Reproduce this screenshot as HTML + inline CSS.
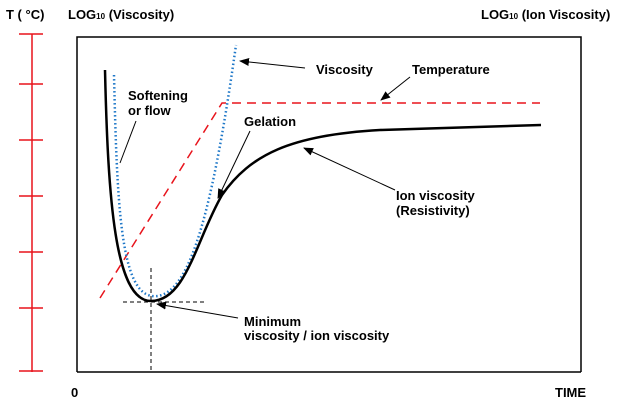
<!DOCTYPE html>
<html><head><style>
body{margin:0;background:#fff;}
svg text{font-family:"Liberation Sans",sans-serif;font-weight:bold;font-size:13px;fill:#000;}
</style></head><body>
<svg width="621" height="411" viewBox="0 0 621 411" xmlns="http://www.w3.org/2000/svg">
<defs><marker id="a" markerWidth="10" markerHeight="8" refX="9" refY="4" orient="auto" markerUnits="userSpaceOnUse"><path d="M0,0 L10,4 L0,8 z" fill="#000"/></marker></defs>
<text x="6" y="19">T ( °C)</text>
<text x="68" y="19">LOG<tspan font-size="8">10</tspan> (Viscosity)</text>
<text x="481" y="19">LOG<tspan font-size="8">10</tspan> (Ion Viscosity)</text>
<text x="71" y="397">0</text>
<text x="555" y="397">TIME</text>
<g stroke="#e8141c" stroke-width="1.5">
<line x1="32" y1="34" x2="32" y2="372"/>
<line x1="19" y1="34" x2="43" y2="34"/><line x1="19" y1="84" x2="43" y2="84"/>
<line x1="19" y1="140" x2="43" y2="140"/><line x1="19" y1="196" x2="43" y2="196"/>
<line x1="19" y1="252" x2="43" y2="252"/><line x1="19" y1="308" x2="43" y2="308"/>
<line x1="19" y1="371" x2="43" y2="371"/>
</g>
<path d="M77,372 L77,37 L581,37 L581,372" fill="none" stroke="#000" stroke-width="1.5"/>
<line x1="77" y1="372" x2="581" y2="372" stroke="#000" stroke-width="1.5"/>
<g stroke="#000" stroke-width="1" stroke-dasharray="4,3">
<line x1="123" y1="302" x2="206" y2="302"/><line x1="151" y1="268" x2="151" y2="372"/>
</g>
<path d="M100,298 L222,103 L540,103" fill="none" stroke="#e8141c" stroke-width="1.5" stroke-dasharray="9,6"/>
<path d="M114,75 C117,200 120,292 152,296 C186,300 210,230 236,45" fill="none" stroke="#1f78c8" stroke-width="2.5" stroke-dasharray="1.5,2.5"/>
<path d="M105,70 C108,200 115,301 151,301 C186,301 196,240 222,195 C250,155 290,135 380,130 L541,125" fill="none" stroke="#000" stroke-width="2.5"/>
<g stroke="#000" stroke-width="1" fill="none">
<line x1="305" y1="68" x2="240" y2="61" marker-end="url(#a)"/>
<line x1="410" y1="77" x2="381" y2="100" marker-end="url(#a)"/>
<line x1="250" y1="131" x2="218" y2="198" marker-end="url(#a)"/>
<line x1="136" y1="121" x2="120" y2="163"/>
<line x1="395" y1="190" x2="304" y2="148" marker-end="url(#a)"/>
<line x1="238" y1="318" x2="157" y2="304" marker-end="url(#a)"/>
</g>
<text x="316" y="74">Viscosity</text>
<text x="412" y="74">Temperature</text>
<text x="244" y="126">Gelation</text>
<text x="128" y="100">Softening</text>
<text x="128" y="115">or flow</text>
<text x="396" y="200">Ion viscosity</text>
<text x="396" y="215">(Resistivity)</text>
<text x="244" y="326">Minimum</text>
<text x="244" y="340">viscosity / ion viscosity</text>
</svg>
</body></html>
